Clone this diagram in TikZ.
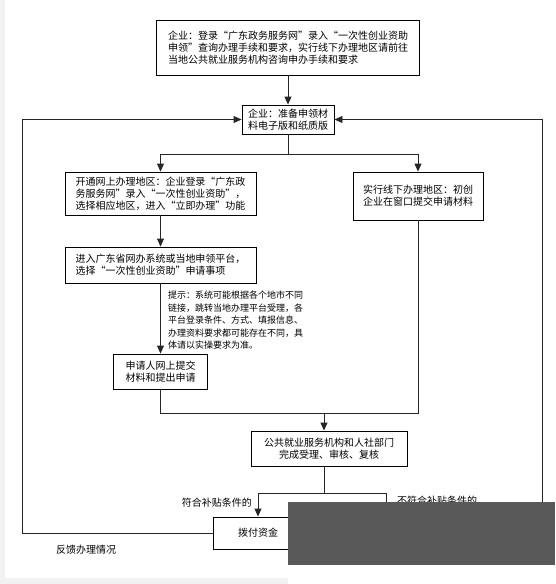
\documentclass[tikz,border=0pt]{standalone}
\usepackage{fontspec}
\setmainfont{Noto Sans CJK SC}
\usetikzlibrary{arrows.meta}
\begin{document}
\begin{tikzpicture}[x=1pt,y=-1pt,
 box/.style={draw=black,line width=0.9pt,rectangle,inner sep=0pt,align=center,font=\fontsize{10}{12.2}\selectfont},
 conn/.style={draw=black!85,line width=0.9pt},
 arr/.style={conn,-{Triangle[length=8pt,width=7pt]}},
 lbl/.style={inner sep=0pt,font=\fontsize{10}{12}\selectfont}]
\useasboundingbox (0,0) rectangle (555,584);
\fill[black!5] (0,0) rectangle (5,584);
\fill[black!5] (0,578) rectangle (288,584);

\node[box,minimum width=263pt,minimum height=55pt,align=left] (top) at (288,47.5)
 {企业：登录“广东政务服务网”录入“一次性创业资助\\申领”查询办理手续和要求，实行线下办理地区请前往\\当地公共就业服务机构咨询申办手续和要求};
\node[box,minimum width=92pt,minimum height=29pt] (b2) at (288,119.5)
 {企业：准备申领材\\料电子版和纸质版};
\node[box,minimum width=191pt,minimum height=43pt,align=left] (l1) at (160.5,193.5)
 {开通网上办理地区：企业登录“广东政\\务服务网”录入“一次性创业资助”，\\选择相应地区，进入“立即办理”功能};
\node[box,minimum width=130pt,minimum height=48pt] (r1) at (418,196)
 {实行线下办理地区：初创\\企业在窗口提交申请材料};
\node[box,minimum width=191pt,minimum height=36pt,align=left] (l2) at (160.5,265)
 {进入广东省网办系统或当地申领平台，\\选择“一次性创业资助”申请事项};
\node[lbl,anchor=north west,align=left,font=\fontsize{9}{12.5}\selectfont] (hint) at (168,291)
 {提示：系统可能根据各个地市不同\\链接，跳转当地办理平台受理，各\\平台登录条件、方式、填报信息、\\办理资料要求都可能存在不同，具\\体请以实操要求为准。};
\node[box,minimum width=94pt,minimum height=35pt] (l3) at (160.5,371.5)
 {申请人网上提交\\材料和提出申请};
\node[box,minimum width=156pt,minimum height=35pt] (pub) at (329,448.5)
 {公共就业服务机构和人社部门\\完成受理、审核、复核};
\node[box,minimum width=90pt,minimum height=32pt] (pay) at (258,533) {拨付资金};

\node[lbl,anchor=east] (yes) at (252,503) {符合补贴条件的};
\node[lbl,anchor=west] (no) at (397,501) {不符合补贴条件的};
\node[lbl,anchor=west] (fb) at (56,550) {反馈办理情况};

\coordinate (sp) at (288,154);
\coordinate (mL) at (160.5,413);
\coordinate (mR) at (418,413);
\coordinate (mA) at (324,413);
\coordinate (d1) at (324,493);
\coordinate (dl) at (258,493);
\coordinate (dr) at (386,493);
\coordinate (drEnd) at (386,530);
\coordinate (fl1) at (22,533);
\coordinate (fl2) at (22,119.5);
\coordinate (fr1) at (542,530);
\coordinate (fr2) at (542,119.5);

\draw[arr] (top) -- (b2);
\draw[conn] (b2) -- (sp);
\draw[arr] (sp) -| (l1);
\draw[arr] (sp) -| (r1);
\draw[arr] (l1) -- (l2);
\draw[arr] (l2) -- (l3);
\draw[conn] (l3) -- (mL) -- (mR) -- (r1);
\draw[arr] (mA) -- (pub.north -| mA);
\draw[conn] (pub.south -| d1) -- (d1);
\draw[conn] (dl) -- (dr) -- (drEnd);
\draw[arr] (dl) -- (pay);
\draw[arr] (pay.west) -- (fl1) -- (fl2) -- (b2.west);
\draw[arr] (fr1) -- (fr2) -- (b2.east);

\fill[black!65] (288,502) rectangle (555,565);
\end{tikzpicture}
\end{document}
